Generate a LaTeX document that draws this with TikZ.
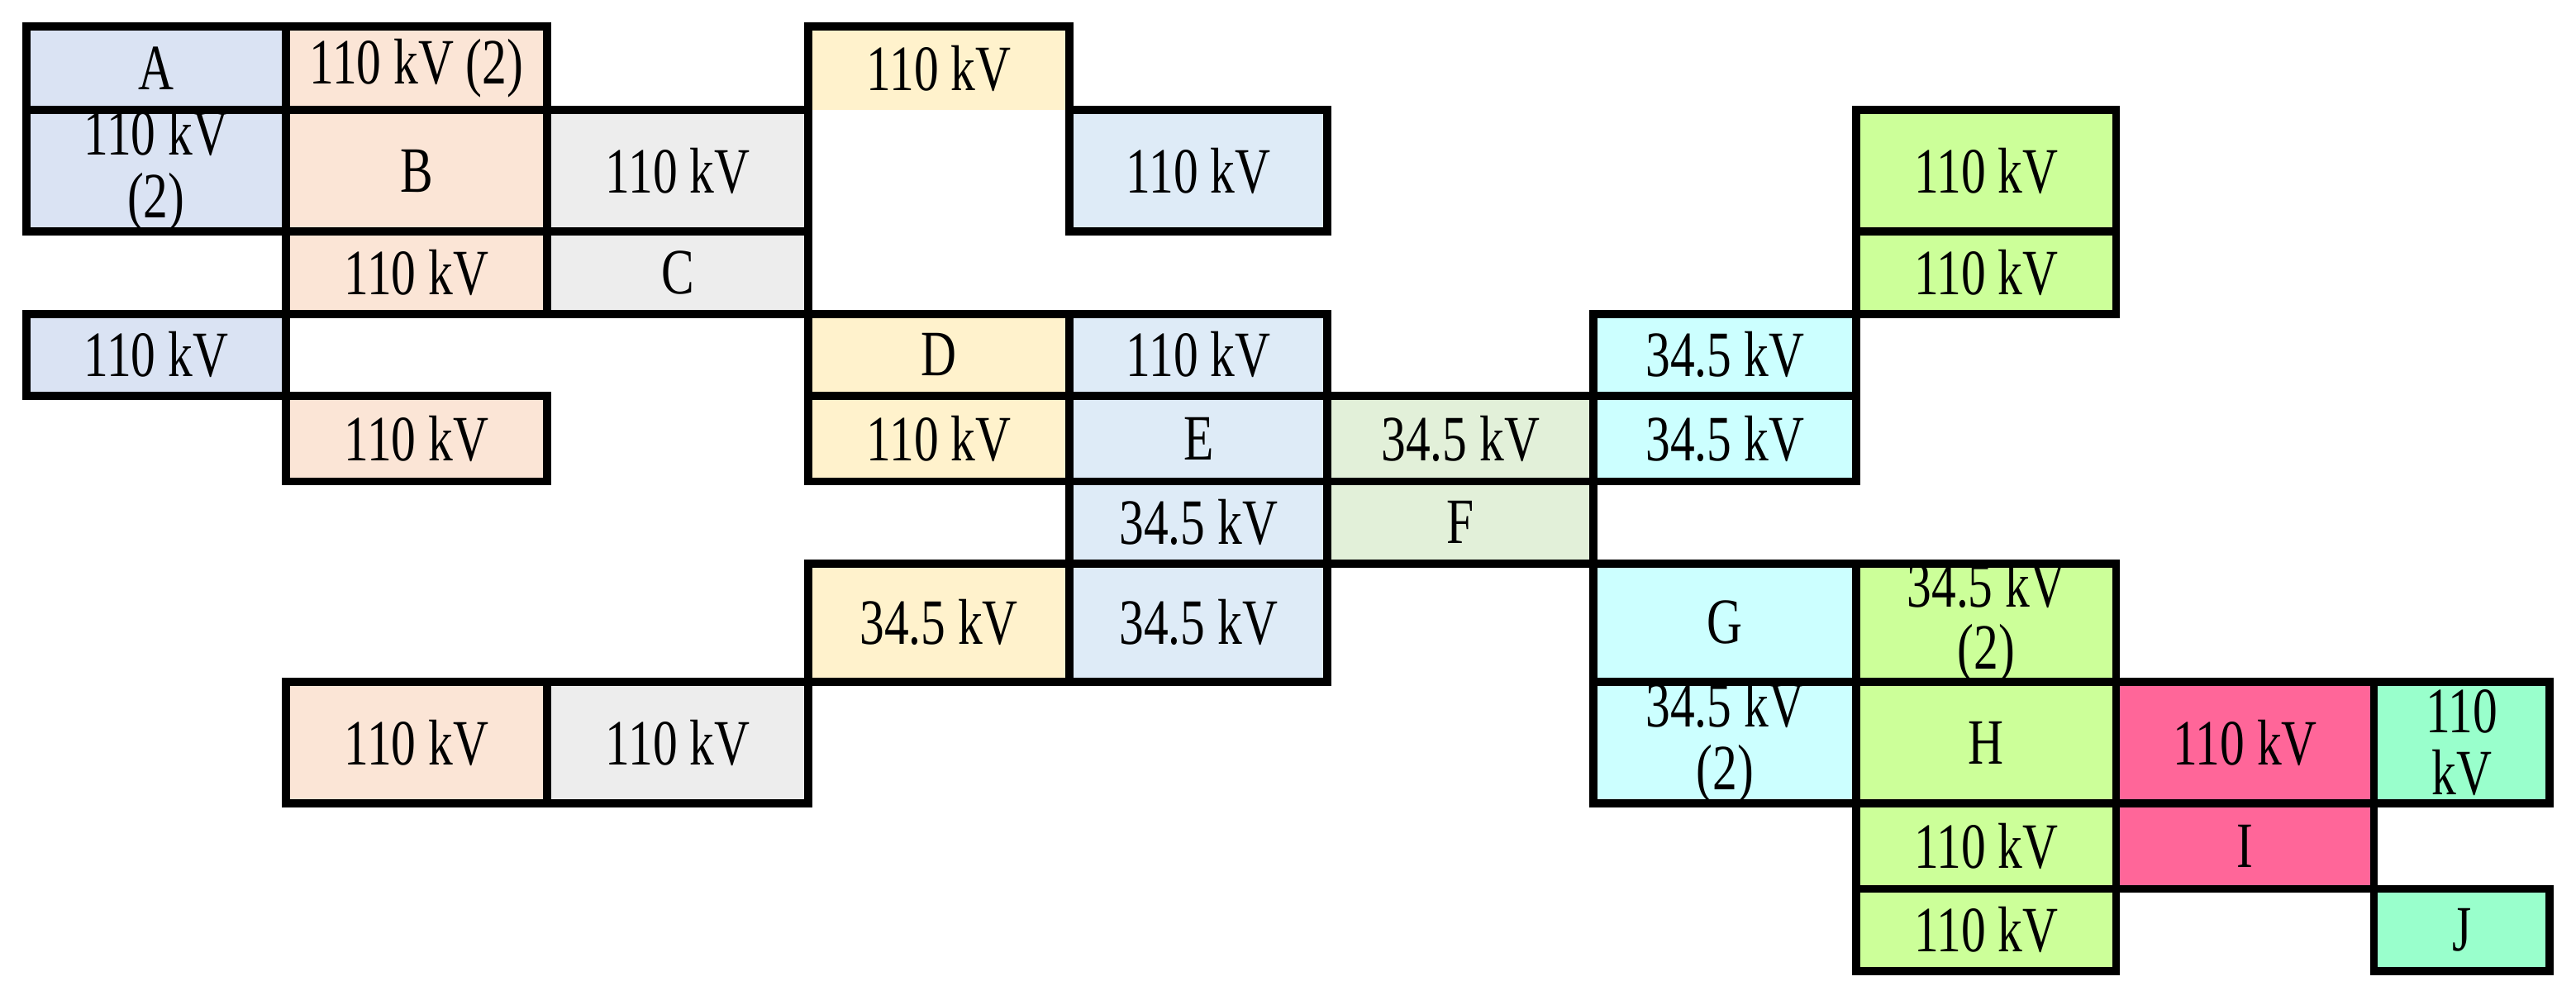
\documentclass[tikz,border=0pt]{standalone}
\usepackage{fontspec}
\setmainfont{Liberation Serif}[FakeStretch=0.76]
\begin{document}
\definecolor{cA}{HTML}{DAE3F3}
\definecolor{cB}{HTML}{FBE5D6}
\definecolor{cC}{HTML}{EDEDED}
\definecolor{cD}{HTML}{FFF2CC}
\definecolor{cE}{HTML}{DEEBF7}
\definecolor{cF}{HTML}{E2F0D9}
\definecolor{cG}{HTML}{CCFFFF}
\definecolor{cH}{HTML}{CCFF99}
\definecolor{cI}{HTML}{FF6699}
\definecolor{cJ}{HTML}{99FFCC}
\begin{tikzpicture}[x=0.05cm,y=-0.05cm,
  box/.style={draw=black,line width=7pt,line join=miter},
  lbl/.style={align=center,font=\fontsize{56}{54}\selectfont,inner sep=0pt}]
\useasboundingbox (0,0) rectangle (1568,600);
\newcommand\cell[7]{%
  \path[box,fill=#5] (#1,#2) rectangle (#3,#4);
  \node[lbl] (#7) at ({(#1+#3)/2},{(#2+#4)/2}) {#6};}
% top yellow cell without bottom border
\fill[cD] (492,16) rectangle (651,67);
\draw[box] (492,67) -- (492,16) -- (651,16) -- (651,67);
\node[lbl] (d0) at (571.5,41.5) {110 kV};
\cell{16}{16}{174}{67}{cA}{A}{a}
\cell{174}{16}{333}{67}{cB}{110 kV (2)}{b0}
\cell{16}{67}{174}{141}{cA}{110 kV\\(2)}{a1}
\cell{174}{67}{333}{141}{cB}{B}{b}
\cell{333}{67}{492}{141}{cC}{110 kV}{c0}
\cell{651}{67}{808}{141}{cE}{110 kV}{e0}
\cell{1130}{67}{1288}{141}{cH}{110 kV}{h0}
\cell{174}{141}{333}{191}{cB}{110 kV}{b1}
\cell{333}{141}{492}{191}{cC}{C}{c}
\cell{1130}{141}{1288}{191}{cH}{110 kV}{h1}
\cell{16}{191}{174}{241}{cA}{110 kV}{a2}
\cell{492}{191}{651}{241}{cD}{D}{d}
\cell{651}{191}{808}{241}{cE}{110 kV}{e1}
\cell{970}{191}{1130}{241}{cG}{34.5 kV}{g0}
\cell{174}{241}{333}{293}{cB}{110 kV}{b2}
\cell{492}{241}{651}{293}{cD}{110 kV}{d1}
\cell{651}{241}{808}{293}{cE}{E}{e}
\cell{808}{241}{970}{293}{cF}{34.5 kV}{f0}
\cell{970}{241}{1130}{293}{cG}{34.5 kV}{g1}
\cell{651}{293}{808}{343}{cE}{34.5 kV}{e2}
\cell{808}{293}{970}{343}{cF}{F}{f}
\cell{492}{343}{651}{415}{cD}{34.5 kV}{d2}
\cell{651}{343}{808}{415}{cE}{34.5 kV}{e3}
\cell{970}{343}{1130}{415}{cG}{G}{g}
\cell{1130}{343}{1288}{415}{cH}{34.5 kV\\(2)}{h2}
\cell{174}{415}{333}{489}{cB}{110 kV}{b3}
\cell{333}{415}{492}{489}{cC}{110 kV}{c1}
\cell{970}{415}{1130}{489}{cG}{34.5 kV\\(2)}{g2}
\cell{1130}{415}{1288}{489}{cH}{H}{h}
\cell{1288}{415}{1445}{489}{cI}{110 kV}{i0}
\cell{1445}{415}{1552}{489}{cJ}{110\\kV}{j0}
\cell{1130}{489}{1288}{541}{cH}{110 kV}{h3}
\cell{1288}{489}{1445}{541}{cI}{I}{i}
\cell{1130}{541}{1288}{591}{cH}{110 kV}{h4}
\cell{1445}{541}{1552}{591}{cJ}{J}{j}
\end{tikzpicture}
\end{document}
